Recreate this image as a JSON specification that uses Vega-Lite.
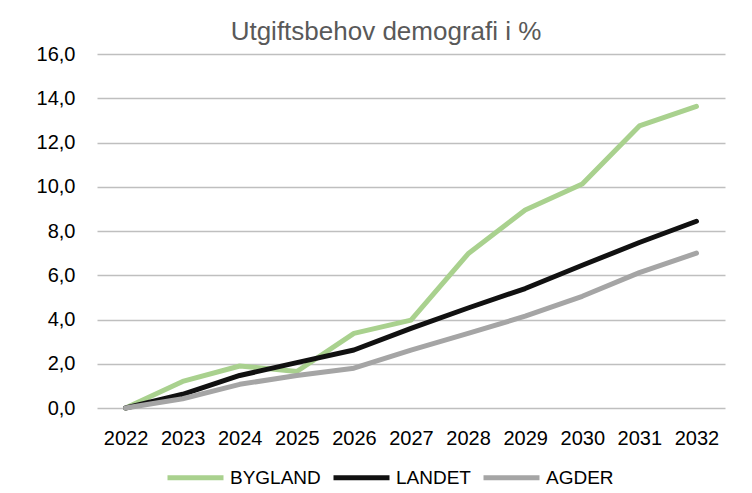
{
  "$schema": "https://vega.github.io/schema/vega-lite/v6.json",
  "autosize": {"type": "none"},
  "width": 628,
  "height": 354,
  "padding": {"left": 97, "top": 54, "right": 27, "bottom": 85},
  "background": "white",
  "title": {"text": "Utgiftsbehov demografi i %", "font": "Liberation Sans", "fontSize": 26, "fontWeight": "normal", "color": "#595959", "anchor": "middle", "offset": 12, "dy": 13, "dx": -25},
  "data": {"values": [
    {"year": "2022", "series": "BYGLAND", "value": 0},
    {"year": "2023", "series": "BYGLAND", "value": 1.2},
    {"year": "2024", "series": "BYGLAND", "value": 1.9},
    {"year": "2025", "series": "BYGLAND", "value": 1.65},
    {"year": "2026", "series": "BYGLAND", "value": 3.37},
    {"year": "2027", "series": "BYGLAND", "value": 3.97},
    {"year": "2028", "series": "BYGLAND", "value": 6.97},
    {"year": "2029", "series": "BYGLAND", "value": 8.95},
    {"year": "2030", "series": "BYGLAND", "value": 10.12},
    {"year": "2031", "series": "BYGLAND", "value": 12.75},
    {"year": "2032", "series": "BYGLAND", "value": 13.63},
    {"year": "2022", "series": "LANDET", "value": 0},
    {"year": "2023", "series": "LANDET", "value": 0.62},
    {"year": "2024", "series": "LANDET", "value": 1.47},
    {"year": "2025", "series": "LANDET", "value": 2.05},
    {"year": "2026", "series": "LANDET", "value": 2.62},
    {"year": "2027", "series": "LANDET", "value": 3.6},
    {"year": "2028", "series": "LANDET", "value": 4.52},
    {"year": "2029", "series": "LANDET", "value": 5.4},
    {"year": "2030", "series": "LANDET", "value": 6.45},
    {"year": "2031", "series": "LANDET", "value": 7.48},
    {"year": "2032", "series": "LANDET", "value": 8.44},
    {"year": "2022", "series": "AGDER", "value": 0},
    {"year": "2023", "series": "AGDER", "value": 0.42},
    {"year": "2024", "series": "AGDER", "value": 1.07},
    {"year": "2025", "series": "AGDER", "value": 1.47},
    {"year": "2026", "series": "AGDER", "value": 1.8},
    {"year": "2027", "series": "AGDER", "value": 2.62},
    {"year": "2028", "series": "AGDER", "value": 3.37},
    {"year": "2029", "series": "AGDER", "value": 4.15},
    {"year": "2030", "series": "AGDER", "value": 5.05},
    {"year": "2031", "series": "AGDER", "value": 6.12},
    {"year": "2032", "series": "AGDER", "value": 7.0}
  ]},
  "mark": {"type": "line", "strokeWidth": 5, "strokeJoin": "round", "strokeCap": "round"},
  "encoding": {
    "x": {"field": "year", "type": "ordinal", "scale": {"type": "point", "padding": 0.5},
      "axis": {"title": null, "labelAngle": 0, "labelFont": "Liberation Sans", "labelFontSize": 20, "labelColor": "#000000", "labelPadding": 20, "ticks": false, "domain": false, "grid": false}},
    "y": {"field": "value", "type": "quantitative", "scale": {"domain": [0, 16], "nice": false},
      "axis": {"title": null, "values": [0, 2, 4, 6, 8, 10, 12, 14, 16], "labelExpr": "replace(format(datum.value, '.1f'), '.', ',')", "labelFont": "Liberation Sans", "labelFontSize": 20, "labelColor": "#000000", "labelPadding": 22, "ticks": false, "domain": false, "grid": true, "gridColor": "#bfbfbf", "gridWidth": 1.5}},
    "color": {"field": "series", "type": "nominal",
      "scale": {"domain": ["BYGLAND", "LANDET", "AGDER"], "range": ["#a9d18e", "#111111", "#a5a5a5"]},
      "legend": {"title": null, "orient": "none", "direction": "horizontal", "legendX": 68, "legendY": 393, "symbolType": "stroke", "symbolStrokeWidth": 5, "symbolSize": 3136, "labelFont": "Liberation Sans", "labelFontSize": 19, "labelColor": "#000000", "columnPadding": 2, "labelOffset": 4}}
  },
  "config": {"view": {"stroke": null}}
}
